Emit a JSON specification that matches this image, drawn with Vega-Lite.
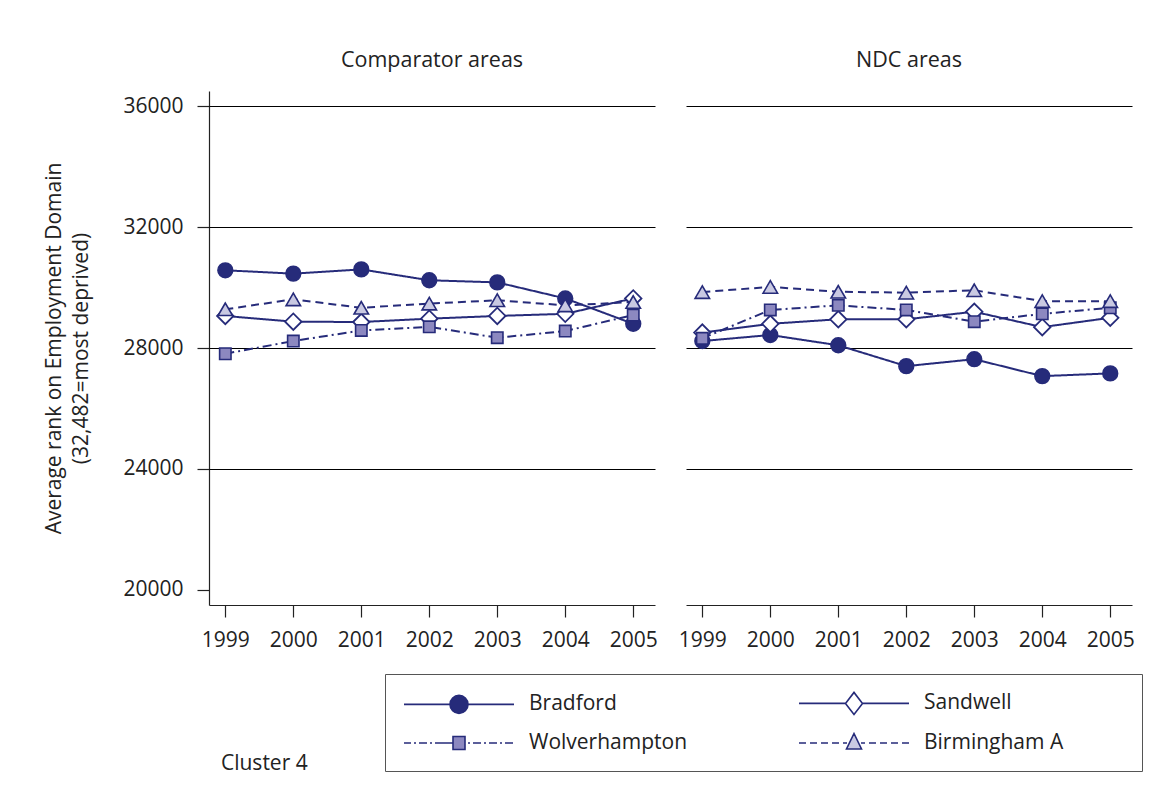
{
  "$schema": "https://vega.github.io/schema/vega-lite/v6.json",
  "padding": {"left": 43, "top": 49, "right": 5, "bottom": 5},
  "background": "#ffffff",
  "title": {"text": "Cluster 4", "orient": "bottom", "anchor": "start", "fontSize": 21, "fontWeight": "normal", "font": "Open Sans", "color": "#222222", "offset": -19, "dx": 177},
  "data": {"values": [
    {"panel": "Comparator areas", "series": "Bradford", "year": 1999, "value": 30570},
    {"panel": "Comparator areas", "series": "Bradford", "year": 2000, "value": 30460},
    {"panel": "Comparator areas", "series": "Bradford", "year": 2001, "value": 30600},
    {"panel": "Comparator areas", "series": "Bradford", "year": 2002, "value": 30240},
    {"panel": "Comparator areas", "series": "Bradford", "year": 2003, "value": 30170},
    {"panel": "Comparator areas", "series": "Bradford", "year": 2004, "value": 29640},
    {"panel": "Comparator areas", "series": "Bradford", "year": 2005, "value": 28800},
    {"panel": "Comparator areas", "series": "Sandwell", "year": 1999, "value": 29060},
    {"panel": "Comparator areas", "series": "Sandwell", "year": 2000, "value": 28870},
    {"panel": "Comparator areas", "series": "Sandwell", "year": 2001, "value": 28860},
    {"panel": "Comparator areas", "series": "Sandwell", "year": 2002, "value": 28970},
    {"panel": "Comparator areas", "series": "Sandwell", "year": 2003, "value": 29060},
    {"panel": "Comparator areas", "series": "Sandwell", "year": 2004, "value": 29130},
    {"panel": "Comparator areas", "series": "Sandwell", "year": 2005, "value": 29640},
    {"panel": "Comparator areas", "series": "Wolverhampton", "year": 1999, "value": 27810},
    {"panel": "Comparator areas", "series": "Wolverhampton", "year": 2000, "value": 28230},
    {"panel": "Comparator areas", "series": "Wolverhampton", "year": 2001, "value": 28580},
    {"panel": "Comparator areas", "series": "Wolverhampton", "year": 2002, "value": 28700},
    {"panel": "Comparator areas", "series": "Wolverhampton", "year": 2003, "value": 28340},
    {"panel": "Comparator areas", "series": "Wolverhampton", "year": 2004, "value": 28560},
    {"panel": "Comparator areas", "series": "Wolverhampton", "year": 2005, "value": 29090},
    {"panel": "Comparator areas", "series": "Birmingham A", "year": 1999, "value": 29280},
    {"panel": "Comparator areas", "series": "Birmingham A", "year": 2000, "value": 29610},
    {"panel": "Comparator areas", "series": "Birmingham A", "year": 2001, "value": 29330},
    {"panel": "Comparator areas", "series": "Birmingham A", "year": 2002, "value": 29470},
    {"panel": "Comparator areas", "series": "Birmingham A", "year": 2003, "value": 29580},
    {"panel": "Comparator areas", "series": "Birmingham A", "year": 2004, "value": 29410},
    {"panel": "Comparator areas", "series": "Birmingham A", "year": 2005, "value": 29520},
    {"panel": "NDC areas", "series": "Bradford", "year": 1999, "value": 28230},
    {"panel": "NDC areas", "series": "Bradford", "year": 2000, "value": 28430},
    {"panel": "NDC areas", "series": "Bradford", "year": 2001, "value": 28090},
    {"panel": "NDC areas", "series": "Bradford", "year": 2002, "value": 27400},
    {"panel": "NDC areas", "series": "Bradford", "year": 2003, "value": 27630},
    {"panel": "NDC areas", "series": "Bradford", "year": 2004, "value": 27070},
    {"panel": "NDC areas", "series": "Bradford", "year": 2005, "value": 27160},
    {"panel": "NDC areas", "series": "Sandwell", "year": 1999, "value": 28510},
    {"panel": "NDC areas", "series": "Sandwell", "year": 2000, "value": 28800},
    {"panel": "NDC areas", "series": "Sandwell", "year": 2001, "value": 28950},
    {"panel": "NDC areas", "series": "Sandwell", "year": 2002, "value": 28950},
    {"panel": "NDC areas", "series": "Sandwell", "year": 2003, "value": 29200},
    {"panel": "NDC areas", "series": "Sandwell", "year": 2004, "value": 28690},
    {"panel": "NDC areas", "series": "Sandwell", "year": 2005, "value": 29000},
    {"panel": "NDC areas", "series": "Wolverhampton", "year": 1999, "value": 28320},
    {"panel": "NDC areas", "series": "Wolverhampton", "year": 2000, "value": 29260},
    {"panel": "NDC areas", "series": "Wolverhampton", "year": 2001, "value": 29410},
    {"panel": "NDC areas", "series": "Wolverhampton", "year": 2002, "value": 29260},
    {"panel": "NDC areas", "series": "Wolverhampton", "year": 2003, "value": 28870},
    {"panel": "NDC areas", "series": "Wolverhampton", "year": 2004, "value": 29130},
    {"panel": "NDC areas", "series": "Wolverhampton", "year": 2005, "value": 29330},
    {"panel": "NDC areas", "series": "Birmingham A", "year": 1999, "value": 29850},
    {"panel": "NDC areas", "series": "Birmingham A", "year": 2000, "value": 30020},
    {"panel": "NDC areas", "series": "Birmingham A", "year": 2001, "value": 29860},
    {"panel": "NDC areas", "series": "Birmingham A", "year": 2002, "value": 29830},
    {"panel": "NDC areas", "series": "Birmingham A", "year": 2003, "value": 29910},
    {"panel": "NDC areas", "series": "Birmingham A", "year": 2004, "value": 29550},
    {"panel": "NDC areas", "series": "Birmingham A", "year": 2005, "value": 29550}
  ]},
  "facet": {
    "column": {
      "field": "panel", "type": "nominal", "sort": ["Comparator areas", "NDC areas"],
      "header": {"title": null, "labelFontSize": 21.5, "labelFont": "Open Sans", "labelColor": "#222222", "labelPadding": 20}
    }
  },
  "spacing": 31,
  "spec": {
    "width": 446,
    "height": 514,
    "encoding": {
      "x": {"field": "year", "type": "quantitative", "scale": {"domain": [1998.76, 2005.32], "nice": false, "zero": false},
        "axis": {"title": null, "values": [1999, 2000, 2001, 2002, 2003, 2004, 2005], "format": "d", "grid": false, "tickSize": 12, "labelPadding": 12, "labelFontSize": 21}},
      "y": {"field": "value", "type": "quantitative", "scale": {"domain": [19500, 36500], "nice": false, "zero": false},
        "axis": {"title": ["Average rank on Employment Domain", "(32,482=most deprived)"], "values": [20000, 24000, 28000, 32000, 36000], "format": "d", "tickSize": 12, "labelPadding": 14, "labelFontSize": 21, "titleFontSize": 21, "titleLineHeight": 27, "titlePadding": 31,
          "grid": true, "gridColor": "#000000", "gridWidth": 1, "gridOpacity": {"condition": {"test": "datum.value == 20000", "value": 0}, "value": 1}}}
    },
    "layer": [
      {
        "mark": {"type": "line", "color": "#262B7A", "strokeWidth": 2},
        "encoding": {
          "detail": {"field": "series", "type": "nominal"},
          "strokeDash": {"field": "series", "type": "nominal", "scale": {"domain": ["Sandwell", "Bradford", "Wolverhampton", "Birmingham A"], "range": [[1, 0], [1, 0], [9, 4, 2, 4], [8, 5]]}, "legend": null}
        }
      },
      {
        "mark": {"type": "point", "filled": true, "strokeWidth": 1.6, "size": 0, "opacity": 1},
        "encoding": {
          "shape": {"field": "series", "type": "nominal",
            "scale": {"domain": ["Bradford", "Sandwell", "Wolverhampton", "Birmingham A"],
              "range": [
                "M-5.5,0L-0.9,0M0.9,0L5.5,0M0.9,0A0.9,0.9,0,1,1,-0.9,0A0.9,0.9,0,1,1,0.9,0Z",
                "M-5.5,0L-0.85,0M0.85,0L5.5,0M-0.85,0L0,-1.1L0.85,0L0,1.1Z",
                "M-5.5,0L-4.8,0M-4.5,0L-4.3,0M-4,0L-3.2,0M-2.9,0L-2.7,0M-2.4,0L-0.6,0M0.9,0L1.1,0M1.4,0L2.2,0M2.5,0L2.7,0M3,0L3.8,0M4.1,0L4.3,0M4.6,0L5.4,0M-0.6,-0.65L0.6,-0.65L0.6,0.65L-0.6,0.65Z",
                "M-5.5,0L-4.8,0M-4.4,0L-3.7,0M-3.3,0L-2.6,0M-2.2,0L-1.5,0M-1.1,0L-0.7,0M0.7,0L1.1,0M1.5,0L2.2,0M2.6,0L3.3,0M3.7,0L4.4,0M4.8,0L5.5,0M0,-0.95L0.75,0.6L-0.75,0.6Z"
              ]},
            "legend": {"title": null, "orient": "none", "legendX": 176, "legendY": 583, "direction": "horizontal", "columns": 2,
              "symbolSize": 400, "symbolStrokeWidth": 1.6, "symbolOffset": 45, "labelOffset": 59, "labelLimit": 400,
              "labelFontSize": 21, "labelFont": "Open Sans", "labelColor": "#222222", "columnPadding": 107, "rowPadding": 12, "padding": 18,
              "strokeColor": "#555555",
              "labelExpr": "(datum.label == 'Sandwell' || datum.label == 'Birmingham A') ? datum.label + '\u00a0\u00a0\u00a0\u00a0\u00a0\u00a0\u00a0\u00a0\u00a0\u00a0\u00a0\u200b' : datum.label"}},
          "fill": {"field": "series", "type": "nominal",
            "scale": {"domain": ["Bradford", "Sandwell", "Wolverhampton", "Birmingham A"], "range": ["#262B7A", "#FFFFFF", "#8C88C0", "#C9C9E2"]},
            "legend": {"title": null, "orient": "none", "legendX": 176, "legendY": 583, "direction": "horizontal", "columns": 2,
              "symbolSize": 400, "symbolStrokeWidth": 1.6, "symbolOffset": 45, "labelOffset": 59, "labelLimit": 400,
              "labelFontSize": 21, "labelFont": "Open Sans", "labelColor": "#222222", "columnPadding": 107, "rowPadding": 12, "padding": 18,
              "strokeColor": "#555555",
              "labelExpr": "(datum.label == 'Sandwell' || datum.label == 'Birmingham A') ? datum.label + '\u00a0\u00a0\u00a0\u00a0\u00a0\u00a0\u00a0\u00a0\u00a0\u00a0\u00a0\u200b' : datum.label"}},
          "stroke": {"field": "series", "type": "nominal",
            "scale": {"domain": ["Bradford", "Sandwell", "Wolverhampton", "Birmingham A"], "range": ["#262B7A", "#262B7A", "#262B7A", "#262B7A"]},
            "legend": {"title": null, "orient": "none", "legendX": 176, "legendY": 583, "direction": "horizontal", "columns": 2,
              "symbolSize": 400, "symbolStrokeWidth": 1.6, "symbolOffset": 45, "labelOffset": 59, "labelLimit": 400,
              "labelFontSize": 21, "labelFont": "Open Sans", "labelColor": "#222222", "columnPadding": 107, "rowPadding": 12, "padding": 18,
              "strokeColor": "#555555",
              "labelExpr": "(datum.label == 'Sandwell' || datum.label == 'Birmingham A') ? datum.label + '\u00a0\u00a0\u00a0\u00a0\u00a0\u00a0\u00a0\u00a0\u00a0\u00a0\u00a0\u200b' : datum.label"}}
        }
      },
      {
        "transform": [{"filter": "datum.series == 'Bradford'"}],
        "mark": {"type": "point", "shape": "circle", "filled": true, "fill": "#262B7A", "stroke": "#262B7A", "strokeWidth": 1.5, "size": 220, "opacity": 1}
      },
      {
        "transform": [{"filter": "datum.series == 'Sandwell'"}],
        "mark": {"type": "point", "shape": "diamond", "filled": true, "fill": "#FFFFFF", "stroke": "#262B7A", "strokeWidth": 1.8, "size": 270, "opacity": 1}
      },
      {
        "transform": [{"filter": "datum.series == 'Wolverhampton'"}],
        "mark": {"type": "point", "shape": "square", "filled": true, "fill": "#8C88C0", "stroke": "#262B7A", "strokeWidth": 1.6, "size": 130, "opacity": 1}
      },
      {
        "transform": [{"filter": "datum.series == 'Birmingham A'"}],
        "mark": {"type": "point", "shape": "triangle-up", "filled": true, "fill": "#C9C9E2", "stroke": "#262B7A", "strokeWidth": 1.6, "size": 210, "opacity": 1}
      }
    ]
  },
  "config": {
    "font": "Open Sans",
    "view": {"stroke": null},
    "axis": {"labelFont": "Open Sans", "titleFont": "Open Sans", "labelColor": "#222222", "titleColor": "#222222", "titleFontWeight": "normal", "domainColor": "#222222", "tickColor": "#222222", "domainWidth": 1.2, "tickWidth": 1.2}
  }
}
